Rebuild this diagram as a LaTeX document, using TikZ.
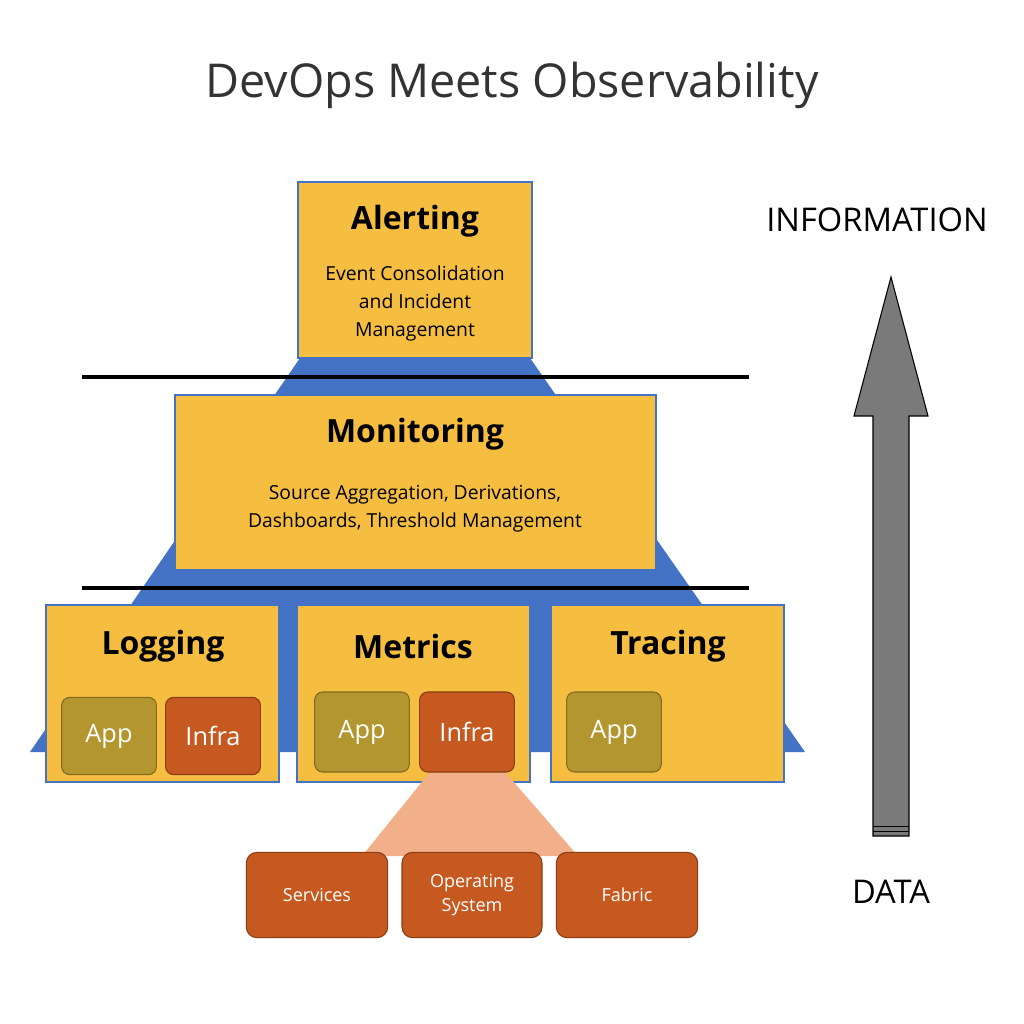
\documentclass[tikz,border=0pt]{standalone}
\usepackage{fontspec}
\setmainfont{Open Sans}
\begin{document}
\begin{tikzpicture}[x=0.75pt,y=-0.75pt,
  box/.style={draw=blueE,line width=1pt,fill=yel},
  head/.style={font=\fontsize{24}{28}\selectfont\bfseries},
  sub/.style={font=\fontsize{14.5}{21}\selectfont,align=center},
  app/.style={draw=olvD,fill=olv,rounded corners=6pt,line width=0.8pt,text=white,font=\fontsize{19}{20}\selectfont},
  infra/.style={draw=rstD,fill=rst,rounded corners=6pt,line width=0.8pt,text=white,font=\fontsize{19}{20}\selectfont},
  leaf/.style={draw=rstD,fill=rst,rounded corners=8pt,line width=0.8pt,text=white,align=center,font=\fontsize{13.5}{18}\selectfont},
  bar/.style={line width=3pt,black}]
\definecolor{blueE}{HTML}{4472C4}
\definecolor{yel}{HTML}{F6BE41}
\definecolor{olv}{HTML}{B3962F}
\definecolor{olvD}{HTML}{7F6A20}
\definecolor{rst}{HTML}{C5591F}
\definecolor{rstD}{HTML}{8A3C14}
\definecolor{peach}{HTML}{F2B08A}
\definecolor{arr}{HTML}{7A7A7A}
\useasboundingbox (0,0) rectangle (1024,1024);
\fill[white] (0,0) rectangle (1024,1024);
\node (title) at (512,85) {\fontsize{35}{40}\selectfont\color[HTML]{333333}DevOps Meets Observability};
% pyramid
\fill[blueE] (300,358) -- (530,358) -- (805,752) -- (30,752) -- cycle;
\coordinate (l1a) at (82,377); \coordinate (l1b) at (749,377);
\coordinate (l2a) at (82,588); \coordinate (l2b) at (749,588);
\draw[bar] (l1a) -- (l1b);
\draw[bar] (l2a) -- (l2b);
% boxes
\draw[box] (298,182) rectangle (532,358);
\node[head] (al) at (415,221) {Alerting};
\node[sub] (als) at (415,303) {Event Consolidation\\and Incident\\Management};
\draw[box] (175,395) rectangle (656,570);
\node[head] (mo) at (415,434) {Monitoring};
\node[sub] (mos) at (415,509) {Source Aggregation, Derivations,\\Dashboards, Threshold Management};
\draw[box] (46,605) rectangle (279,782);
\node[head] (lo) at (163,646) {Logging};
\draw[box] (297,605) rectangle (530,782);
\node[head] (me) at (413,646) {Metrics};
\draw[box] (551,605) rectangle (784,782);
\node[head] (tr) at (668,646) {Tracing};
% infra fan
\fill[peach] (430,772) -- (505,772) -- (578,856) -- (362,856) -- cycle;
\node[app,minimum width=71pt,minimum height=58pt] (la) at (109,736) {App};
\node[infra,minimum width=71pt,minimum height=58pt] (li) at (213,736) {Infra};
\node[app,minimum width=71pt,minimum height=60pt] (ma) at (362,732) {App};
\node[infra,minimum width=71pt,minimum height=60pt] (mi) at (467,732) {Infra};
\node[app,minimum width=71pt,minimum height=60pt] (ta) at (614,732) {App};
\node[leaf,minimum width=106pt,minimum height=64pt] (sv) at (317,895) {Services};
\node[leaf,minimum width=105pt,minimum height=64pt] (os) at (472,895) {Operating\\System};
\node[leaf,minimum width=106pt,minimum height=64pt] (fa) at (627,895) {Fabric};
% arrow
\draw[fill=arr,line width=0.8pt] (873,836) -- (873,416) -- (854,416) -- (891,277) -- (928,416) -- (909,416) -- (909,836) -- cycle;
\draw[line width=0.6pt] (873,826) -- (909,826) (873,831) -- (909,831);
\node (inf) at (877,220) {\fontsize{24.5}{28}\selectfont INFORMATION};
\node (dat) at (891,892) {\fontsize{24.5}{28}\selectfont DATA};
\end{tikzpicture}
\end{document}
